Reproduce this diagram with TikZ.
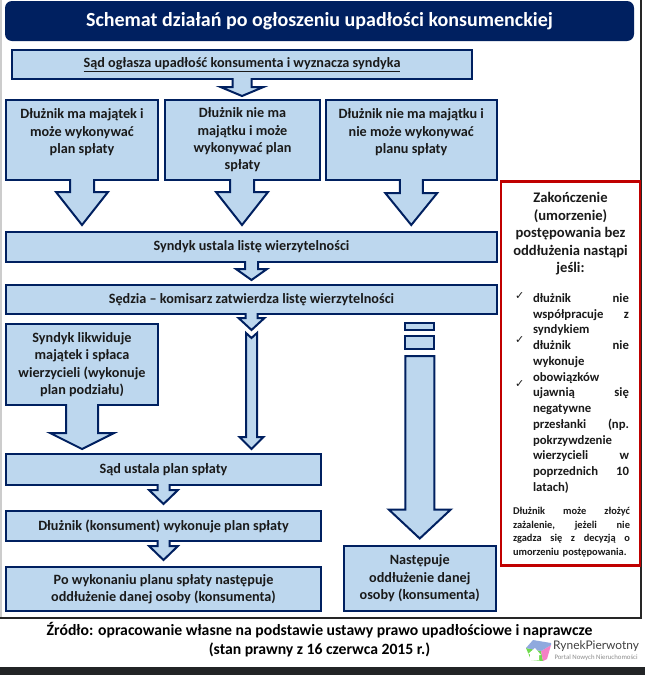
\documentclass[tikz,border=0pt]{standalone}
\usepackage{fontspec}
\usepackage{xcolor}
\setmainfont{Carlito}
\newfontfamily\markfont{DejaVu Sans}
\newfontfamily\logofont{Lato}
\usetikzlibrary{
    positioning, % For placing nodes relative to each other
    calc         % For the corners of the block arrows
}
\definecolor{BorderColor}{HTML}{002060}
\definecolor{BlockFill}{HTML}{BDD7EE}
\definecolor{WarnColor}{HTML}{C00000}
\definecolor{TextColor}{HTML}{1A1A1A}
\definecolor{BarColor}{HTML}{222426}

\begin{document}
\begin{tikzpicture}[
    x=1pt, y=1pt,
    % Set the default font to match the image
    font=\bfseries,
    text=TextColor,
]
    % --- Define TikZ styles for diagram elements ---
    \tikzset{
        % Style for the blue blocks
        block/.style={
            shape=rectangle,
            draw=BorderColor,
            line width=2pt,
            fill=BlockFill,
            align=center,
            inner sep=0pt,
            outer sep=0pt,
            font=\fontsize{14.2}{17.4}\selectfont\bfseries,
        },
        % Style for the small boxes above the long arrow
        stub/.style={
            block,
            minimum width=29pt,
        },
        % Block arrow joined to the block above it
        % (half shaft, half head, head length, gap to the target)
        downarrow/.style n args={4}{
            draw=BorderColor,
            line width=2pt,
            fill=BlockFill,
            miter limit=10,
            to path={
                ($(\tikztostart)+(-#1,1)$)
                -- ($(\tikztotarget)+(-#1,#4+#3)$)
                -- ($(\tikztotarget)+(-#2,#4+#3)$)
                -- ($(\tikztotarget)+(0,#4)$)
                -- ($(\tikztotarget)+(#2,#4+#3)$)
                -- ($(\tikztotarget)+(#1,#4+#3)$)
                -- ($(\tikztostart)+(#1,1)$)
            },
        },
        % Free standing block arrow, with a notch in its tail
        % (half shaft, half head, head length, gap to the target, notch)
        tailarrow/.style n args={5}{
            draw=BorderColor,
            line width=2pt,
            fill=BlockFill,
            miter limit=10,
            to path={
                ($(\tikztostart)+(-#1,0)$)
                -- ($(\tikztotarget)+(-#1,#4+#3)$)
                -- ($(\tikztotarget)+(-#2,#4+#3)$)
                -- ($(\tikztotarget)+(0,#4)$)
                -- ($(\tikztotarget)+(#2,#4+#3)$)
                -- ($(\tikztotarget)+(#1,#4+#3)$)
                -- ($(\tikztostart)+(#1,0)$)
                -- ($(\tikztostart)+(0,-#5)$)
                -- cycle
            },
        },
        % Styles for the texts in the red frame
        listtext/.style={
            text width=96pt,
            inner sep=0pt,
            outer sep=0pt,
            align=left,
            font=\fontsize{12.7}{15.75}\selectfont\bfseries,
        },
        checkmark/.style={
            inner sep=0pt,
            font=\fontsize{11}{11}\markfont,
        },
    }

    % --- Page margins and frame lines ---
    \useasboundingbox (0,0) rectangle (645,-675);
    \fill[white] (0,0) rectangle (645,-675);
    \fill[black!20] (0,0) rectangle (1.5,-617);
    \draw[line width=1.6pt, black!85] (0,-618) -- (641,-618) -- (641,0);
    \fill[BarColor] (0,-667) rectangle (645,-675);

    % --- Place the diagram elements ---

    % 1. Title and the first block
    \node[fill=BorderColor, rounded corners=7pt, minimum width=629pt, minimum height=40pt,
        inner sep=0pt, outer sep=0pt, text=white, font=\fontsize{20}{22}\selectfont\bfseries,
        anchor=north west] (title) at (5,-1) {Schemat działań po ogłoszeniu upadłości konsumenckiej};
    \node[block, below right=9pt and 7pt of title.south west, minimum width=460pt, minimum height=29pt] (court)
        {\underline{Sąd ogłasza upadłość konsumenta i wyznacza syndyka}};

    % 2. The three cases
    \node[block, below right=21pt and -6pt of court.south west, minimum width=152pt, minimum height=80pt] (caseA)
        {Dłużnik ma majątek i\\może wykonywać\\plan spłaty\\~};
    \node[block, right=7pt of caseA, minimum width=155pt, minimum height=80pt] (caseB)
        {Dłużnik nie ma\\majątku i może\\wykonywać plan\\spłaty};
    \node[block, right=6pt of caseB, minimum width=170.5pt, minimum height=80pt] (caseC)
        {Dłużnik nie ma majątku i\\nie może wykonywać\\planu spłaty\\~};

    % 3. The two wide blocks
    \node[block, below right=52pt and 0pt of caseA.south west, minimum width=491pt, minimum height=30pt] (claims)
        {Syndyk ustala listę wierzytelności};
    \node[block, below=23pt of claims, minimum width=491pt, minimum height=29pt] (judge)
        {Sędzia -- komisarz zatwierdza listę wierzytelności};

    % 4. The left column
    \node[block, below right=10pt and 0pt of judge.south west, minimum width=152pt, minimum height=81pt] (assets)
        {Syndyk likwiduje\\majątek i spłaca\\wierzycieli (wykonuje\\plan podziału)};
    \node[block, below right=49pt and 0pt of assets.south west, minimum width=315pt, minimum height=31pt] (plan)
        {Sąd ustala plan spłaty};
    \node[block, below=26pt of plan, minimum width=315pt, minimum height=30pt] (perform)
        {Dłużnik (konsument) wykonuje plan spłaty};
    \node[block, below=26pt of perform, minimum width=315pt, minimum height=44pt] (relief)
        {Po wykonaniu planu spłaty następuje\\oddłużenie danej osoby (konsumenta)};

    % 5. The right column
    \node[block, above right=0pt and 22.5pt of relief.south east, minimum width=152.5pt, minimum height=65pt] (reliefB)
        {Następuje\\oddłużenie danej\\osoby (konsumenta)};
    \coordinate (rightcol) at (judge.south -| reliefB.north);
    \node[stub, below=9pt of rightcol, minimum height=6.5pt] (stubA) {};
    \node[stub, below=6.5pt of stubA, minimum height=13pt] (stubB) {};
    \coordinate[below=7pt of stubB] (rightarrow);

    % 6. The red frame and its texts
    \node[draw=WarnColor, line width=2.2pt, below right=1.5pt and 4.5pt of caseC.south east,
        minimum width=139pt, minimum height=384pt, inner sep=0pt, outer sep=0pt] (frame) {};
    \node[below=11pt of frame.north, inner sep=0pt, align=center,
        font=\fontsize{14.6}{17.5}\selectfont\bfseries] (frametitle)
        {Zakończenie\\(umorzenie)\\postępowania bez\\oddłużenia nastąpi\\jeśli:};
    \node[listtext, below right=112pt and 32pt of frame.north west] (items)
        {dłużnik\hfill nie\\współpracuje\hfill z\\syndykiem\\
         dłużnik\hfill nie\\wykonuje\\obowiązków\\
         ujawnią\hfill się\\negatywne\\przesłanki\hfill (np.\\pokrzywdzenie\\wierzycieli\hfill w\\poprzednich\hfill 10\\latach)};
    \node[checkmark, below left=-1pt and 8.5pt of items.north west] (checkA) {✓};
    \node[checkmark, below=36.7pt of checkA] (checkB) {✓};
    \node[checkmark, below=36.7pt of checkB] (checkC) {✓};
    \node[listtext, below right=326pt and 12pt of frame.north west, text width=117pt,
        font=\fontsize{10.4}{13.4}\selectfont\bfseries] (appeal)
        {Dłużnik\hfill może\hfill złożyć\\zażalenie,\hfill jeżeli\hfill nie\\zgadza\hfill się\hfill z\hfill decyzją\hfill o\\umorzeniu postępowania.};

    % 7. The source below the frame
    \node[below=11pt of relief.south -| title.south, inner sep=0pt, align=center, text=black,
        font=\fontsize{15.7}{19}\selectfont\bfseries] (source)
        {Źródło: opracowanie własne na podstawie ustawy prawo upadłościowe i naprawcze\\(stan prawny z 16 czerwca 2015 r.)};
    \node[inner sep=0pt, anchor=west, text=black!75, font=\fontsize{11.9}{13}\selectfont\logofont] (brand)
        at (553,-646) {RynekPierwotny};
    \node[below=2.5pt of brand.south, inner sep=0pt, text=black!45, font=\fontsize{6.8}{7}\selectfont] (portal)
        {Portal Nowych Nieruchomości};

    % Logo cube
    \fill[green!60!olive!70] (526,-648) -- (541,-651) -- (543,-661) -- (531,-660) -- cycle;
    \fill[magenta!50] (541,-651) -- (551,-645) -- (547,-659) -- (543,-661) -- cycle;
    \fill[cyan!45!blue!45] (526,-648) -- (533,-640) -- (551,-643) -- (551,-645) -- (541,-651) -- cycle;
    \fill[white] (530,-660) -- (530,-654) -- (528,-654) -- (535,-648) -- (541,-655) -- (539,-655) -- (539,-660) -- cycle;

    % --- Draw the block arrows ---

    \draw[downarrow={9.5}{21.5}{9}{4}] (court.south) to (court.south |- caseB.north);
    \draw[downarrow={12}{26}{33}{7}] (caseA.south) to (caseA.south |- claims.north);
    \draw[downarrow={12}{26}{33}{7}] (caseB.south -| court.south) to (court.south |- claims.north);
    \draw[downarrow={11.5}{26}{32}{7}] (caseC.south) to (caseC.south |- claims.north);
    \draw[downarrow={6.5}{15.5}{11}{5}] (claims.south) to (claims.south |- judge.north);
    \draw[downarrow={6}{13}{12}{-16}] (judge.south) to (judge.south |- 0,-314);
    \coordinate[below=19pt of judge.south] (longarrow);
    \draw[tailarrow={5.5}{12}{12}{5}{5}] (longarrow) to (longarrow |- plan.north);
    \draw[downarrow={16}{32}{16}{5}] (assets.south) to (assets.south |- plan.north);
    \draw[downarrow={6}{14.5}{14}{7}] (plan.south) to (plan.south |- perform.north);
    \draw[downarrow={6}{14.5}{14}{7}] (perform.south) to (perform.south |- relief.north);
    \draw[tailarrow={14.5}{31}{29}{7.5}{0}] (rightarrow) to (rightarrow |- reliefB.north);

\end{tikzpicture}
\end{document}
